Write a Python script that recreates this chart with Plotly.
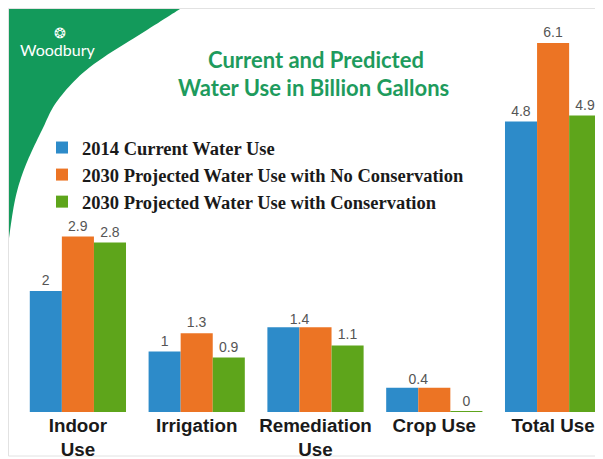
import plotly.graph_objects as go

# ---------------- data ----------------
categories = ["Indoor<br>Use", "Irrigation", "Remediation<br>Use", "Crop Use", "Total Use"]
series_names = [
    "2014 Current Water Use",
    "2030 Projected Water Use with No Conservation",
    "2030 Projected Water Use with Conservation",
]
current_2014 = [2, 1, 1.4, 0.4, 4.8]
projected_no_conservation = [2.9, 1.3, 1.4, 0.4, 6.1]
projected_with_conservation = [2.8, 0.9, 1.1, 0, 4.9]
series_values = [current_2014, projected_no_conservation, projected_with_conservation]
series_colors = ["#2d8bc9", "#ec7424", "#5ea51b"]

title_lines = ["Current and Predicted", "Water Use in Billion Gallons"]
logo_text = "Woodbury"

# ---------------- layout helpers ----------------
# the page body has an 8px margin, so the figure is drawn 8px in and
# 8px smaller; positions below are given in window pixels.
O = 8
W, H = 603 - O, 459 - O
BASE = 412 - O               # axis baseline in figure px
MB = H - BASE                # bottom margin
PH = BASE                    # plot height
UNIT_PX = 60.5               # pixels per billion gallons
CAT_PX = 118.8               # pixels between categories
CAT0 = 77.9 - O              # centre of first category


def pxx(x):
    return (x - O) / W


def pxy(y):
    return (PH - (y - O)) / PH


bar_w = 0.27
offsets = [-1.5 * bar_w + k * bar_w for k in range(3)]
x_idx = list(range(len(categories)))
label_font = dict(family="Liberation Sans", size=14, color="#555555")

# labels: where the first two series are equal, one shared label is shown
merged = [a == b for a, b in zip(series_values[0], series_values[1])]
texts = []
for k, vals in enumerate(series_values):
    t = []
    for i, v in enumerate(vals):
        t.append("" if (k < 2 and merged[i]) else f"{v:g}")
    texts.append(t)

fig = go.Figure()

for name, vals, col, off, txt in zip(series_names, series_values, series_colors, offsets, texts):
    fig.add_trace(go.Bar(
        x=x_idx, y=vals, name=name,
        width=bar_w, offset=off,
        marker=dict(color=col, line=dict(width=0)),
        text=txt,
        textposition="outside",
        textfont=label_font,
        cliponaxis=False,
        hoverinfo="skip",
    ))

# shared labels for equal adjacent bars
mx = [i + offsets[1] for i in x_idx if merged[i]]
my = [series_values[0][i] for i in x_idx if merged[i]]
fig.add_trace(go.Scatter(
    x=mx, y=my, mode="text", text=[f"{v:g}" for v in my],
    textposition="top center", textfont=label_font,
    showlegend=False, cliponaxis=False, hoverinfo="skip",
))

# thin line for zero-valued bars so they remain visible
for vals, col, off in zip(series_values, series_colors, offsets):
    for i, v in enumerate(vals):
        if v == 0:
            fig.add_trace(go.Scatter(
                x=[i + off, i + off + bar_w], y=[v, v], mode="lines",
                line=dict(color=col, width=2), showlegend=False,
                cliponaxis=False, hoverinfo="skip",
            ))

# ---------------- decorative green corner ----------------
corner_pts = [(180, 9), (147, 30), (90, 67), (58, 100), (42, 130),
              (25, 167), (15, 200), (8, 245)]


def catmull(pts, n=12):
    out = []
    p = [pts[0]] + pts + [pts[-1]]
    for i in range(1, len(p) - 2):
        p0, p1, p2, p3 = p[i - 1], p[i], p[i + 1], p[i + 2]
        for k in range(n):
            t = k / n
            t2, t3 = t * t, t * t * t
            x = 0.5 * ((2 * p1[0]) + (-p0[0] + p2[0]) * t +
                       (2 * p0[0] - 5 * p1[0] + 4 * p2[0] - p3[0]) * t2 +
                       (-p0[0] + 3 * p1[0] - 3 * p2[0] + p3[0]) * t3)
            y = 0.5 * ((2 * p1[1]) + (-p0[1] + p2[1]) * t +
                       (2 * p0[1] - 5 * p1[1] + 4 * p2[1] - p3[1]) * t2 +
                       (-p0[1] + 3 * p1[1] - 3 * p2[1] + p3[1]) * t3)
            out.append((x, y))
    out.append(pts[-1])
    return out


curve = catmull(corner_pts)
path = f"M {pxx(8):.5f},{pxy(9):.5f} "
for (x, y) in curve:
    path += f"L {pxx(x):.5f},{pxy(y):.5f} "
path += "Z"

shapes = [
    dict(type="path", xref="paper", yref="paper", path=path,
         fillcolor="#139a5b", line=dict(width=0), layer="below"),
    dict(type="rect", xref="paper", yref="paper",
         x0=pxx(8.5), x1=pxx(602), y0=pxy(456), y1=pxy(8.5),
         line=dict(color="#e2e2e2", width=1), layer="below"),
]

annotations = [
    dict(text=title_lines[0], x=pxx(316), y=pxy(59), xref="paper", yref="paper",
         xanchor="center", yanchor="middle", showarrow=False,
         font=dict(family="Lato", size=22, color="#1e9b5d", weight="bold")),
    dict(text=title_lines[1], x=pxx(314), y=pxy(88), xref="paper", yref="paper",
         xanchor="center", yanchor="middle", showarrow=False,
         font=dict(family="Lato", size=22, color="#1e9b5d", weight="bold")),
    dict(text=logo_text, x=pxx(57), y=pxy(50), xref="paper", yref="paper",
         xanchor="center", yanchor="middle", showarrow=False,
         font=dict(family="Lato", size=16, color="#ffffff")),
    dict(text="❂", x=pxx(60), y=pxy(33), xref="paper", yref="paper",
         xanchor="center", yanchor="middle", showarrow=False,
         font=dict(family="DejaVu Sans", size=14, color="#ffffff")),
]

fig.update_layout(
    width=W, height=H,
    margin=dict(l=0, r=0, t=0, b=MB, pad=0),
    paper_bgcolor="white", plot_bgcolor="white",
    barmode="overlay",
    showlegend=True,
    legend=dict(
        x=pxx(42), y=pxy(129), xanchor="left", yanchor="top",
        xref="paper", yref="paper",
        bgcolor="rgba(0,0,0,0)", borderwidth=0,
        font=dict(family="Liberation Serif", size=18.5, color="#1a1a1a", weight="bold"),
        traceorder="normal", tracegroupgap=0,
    ),
    xaxis=dict(
        range=[-CAT0 / CAT_PX, (W - CAT0) / CAT_PX],
        tickmode="array", tickvals=x_idx, ticktext=categories,
        tickfont=dict(family="Liberation Sans", size=18.8, color="#1a1a1a", weight="bold"),
        showgrid=False, zeroline=False, showline=False, ticks="",
        automargin=False, fixedrange=True,
    ),
    yaxis=dict(
        range=[0, PH / UNIT_PX], visible=False, showgrid=False, zeroline=False,
        automargin=False, fixedrange=True,
    ),
    shapes=shapes,
    annotations=annotations,
)

fig.write_html("out.html")
